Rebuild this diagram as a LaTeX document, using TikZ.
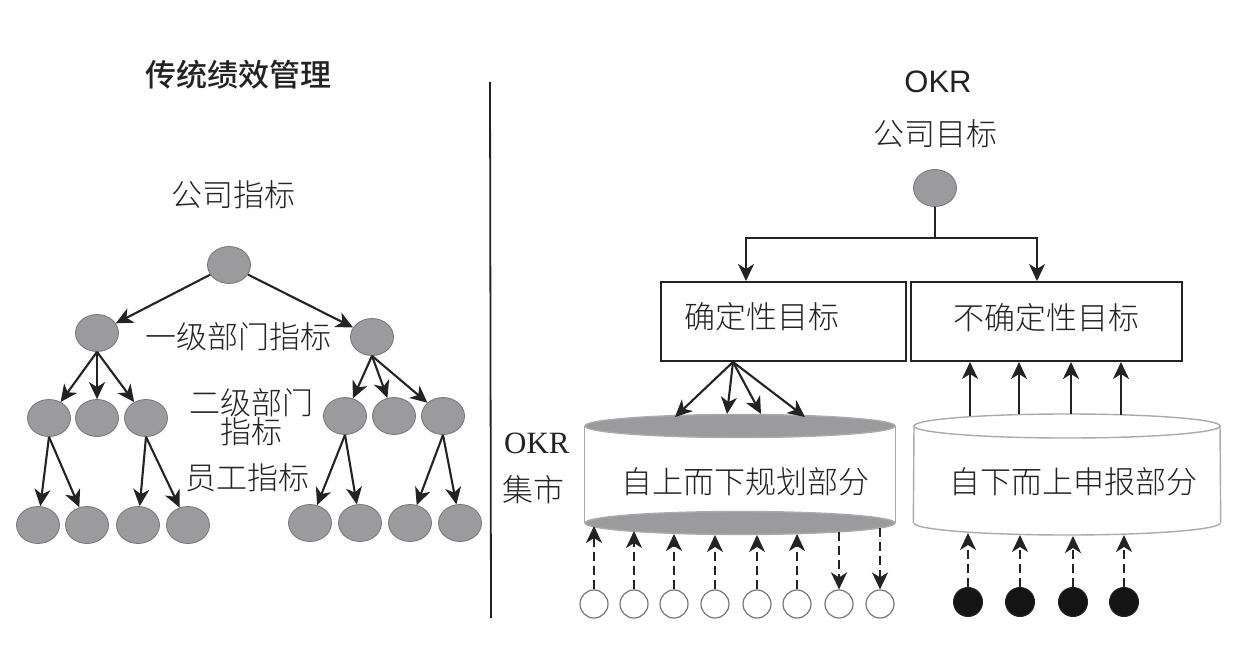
\documentclass[tikz,border=0pt]{standalone}
\usepackage{fontspec}
\setmainfont{Liberation Serif}
\newfontfamily\cjk{Noto Sans CJK SC}[UprightFont={* Light}, BoldFont={* Medium}]
\newfontfamily\lsans{Liberation Sans}
\usetikzlibrary{shapes.geometric,arrows.meta}
\definecolor{ngray}{RGB}{155,155,157}
\definecolor{nedge}{RGB}{118,118,118}
\definecolor{ink}{RGB}{35,35,35}
\definecolor{lgray}{RGB}{170,170,170}
\tikzset{
  gnode/.style={ellipse, fill=ngray, draw=nedge, line width=0.8pt, minimum width=43pt, minimum height=37pt, inner sep=0pt},
  wnode/.style={circle, draw=nedge, fill=white, line width=1.2pt, minimum size=28pt, inner sep=0pt},
  bnode/.style={circle, draw=ink, fill=black!92, line width=1pt, minimum size=29pt, inner sep=0pt},
  arr/.style={draw=ink, line width=2.1pt, -{Stealth[length=17pt,width=16pt,inset=5pt]}},
  darr/.style={arr, dash pattern=on 9pt off 5pt},
  lbl/.style={text=ink, font=\cjk\fontsize{31}{33}\selectfont, inner sep=0pt},
  boxn/.style={draw=ink, line width=1.9pt, inner sep=0pt, fill=white},
  cyltop/.style={ellipse, inner sep=0pt, line width=1.4pt}
}
\begin{document}
\begin{tikzpicture}[x=1pt,y=-1pt]
\useasboundingbox[fill=white] (0,0) rectangle (1252,652);

% ---------- left: traditional ----------
\node[lbl, font=\cjk\bfseries\fontsize{31}{33}\selectfont] (title1) at (238,75) {传统绩效管理};
\node[lbl] (gs) at (233,195) {公司指标};
\node[lbl] (lv1) at (238,337) {一级部门指标};
\node[lbl, align=center, font=\cjk\fontsize{31}{29}\selectfont] (lv2) at (251,417) {二级部门\\指标};
\node[lbl] (lv3) at (247,478) {员工指标};

\node[gnode] (t) at (229,265) {};
\node[gnode] (a) at (97,333) {};
\node[gnode] (b) at (372,337) {};
\node[gnode] (a1) at (49,418) {};
\node[gnode] (a2) at (97,418) {};
\node[gnode] (a3) at (146,418) {};
\node[gnode] (b1) at (345,416) {};
\node[gnode] (b2) at (394,416) {};
\node[gnode] (b3) at (443,416) {};
\node[gnode] (l1) at (38,525) {};
\node[gnode] (l2) at (87,525) {};
\node[gnode] (l3) at (138,525) {};
\node[gnode] (l4) at (188,525) {};
\node[gnode] (r1) at (310,523) {};
\node[gnode] (r2) at (360,523) {};
\node[gnode] (r3) at (410,523) {};
\node[gnode] (r4) at (460,523) {};

\draw[arr] (t) -- (a);
\draw[arr] (t) -- (b);
\foreach \c in {a1,a2,a3} \draw[arr] (a.south) -- (\c);
\foreach \c in {b1,b2,b3} \draw[arr] (b.south) -- (\c);
\draw[arr] (a1.south) -- (l1);
\draw[arr] (a1.south) -- (l2);
\draw[arr] (a3.south) -- (l3);
\draw[arr] (a3.south) -- (l4);
\draw[arr] (b1.south) -- (r1);
\draw[arr] (b1.south) -- (r2);
\draw[arr] (b3.south) -- (r3);
\draw[arr] (b3.south) -- (r4);

% divider
\draw[draw=ink, line width=1.8pt] (490,82) -- (491,618);

% ---------- right: OKR ----------
\node[text=ink, font=\lsans\fontsize{31}{33}\selectfont, inner sep=0pt] (okr) at (938,82) {OKR};
\node[lbl] (gm) at (935,134) {公司目标};
\node[gnode] (ot) at (935,188) {};
\coordinate (j) at (935,238);
\coordinate (jL) at (746,281);
\coordinate (jR) at (1037,281);
\draw[draw=ink, line width=1.9pt] (ot.south) -- (j);
\draw[arr] (j) -| (jL);
\draw[arr] (j) -| (jR);

\node[boxn, minimum width=245pt, minimum height=79pt] (bx1) at (783.5,321.5) {};
\node[lbl] (bx1t) at (762,317) {确定性目标};
\node[boxn, minimum width=271pt, minimum height=79pt] (bx2) at (1046.5,321.5) {};
\node[lbl] (bx2t) at (1046,318) {不确定性目标};

% cylinder 1 (top-down)
\node[cyltop, minimum width=310pt, minimum height=23pt] (c1t) at (740,426) {};
\node[cyltop, minimum width=310pt, minimum height=23pt] (c1b) at (740,523) {};
\fill[white] (c1t.west) rectangle (c1b.east);
\draw[lgray, line width=1.4pt] (c1t.west) -- (c1b.west);
\draw[lgray, line width=1.4pt] (c1t.east) -- (c1b.east);
\node[cyltop, minimum width=310pt, minimum height=23pt, fill=ngray, draw=lgray] at (c1t) {};
\node[cyltop, minimum width=310pt, minimum height=23pt, fill=ngray, draw=lgray] at (c1b) {};
\node[lbl] (c1txt) at (745,482) {自上而下规划部分};

% cylinder 2 (bottom-up)
\node[cyltop, minimum width=306pt, minimum height=24pt, draw=lgray, fill=white] (c2b) at (1067,523) {};
\fill[white] (c2b.west) rectangle (1220,426);
\draw[lgray, line width=1.4pt] (c2b.west) -- (914,426);
\draw[lgray, line width=1.4pt] (c2b.east) -- (1220,426);
\node[cyltop, minimum width=306pt, minimum height=24pt, draw=lgray, fill=white] (c2t) at (1067,426) {};
\node[lbl] (c2txt) at (1073,482) {自下而上申报部分};

% OKR market label
\node[text=ink, font=\fontsize{31}{33}\selectfont, inner sep=0pt, anchor=west] (mk1) at (504,443) {OKR};
\node[lbl, anchor=west] (mk2) at (502,490) {集市};

% arrows box1 -> cylinder 1
\coordinate (s1) at (733,362);
\coordinate (d1) at (675,417);
\coordinate (d2) at (727,414);
\coordinate (d3) at (761,414);
\coordinate (d4) at (805,417);
\foreach \d in {d1,d2,d3,d4} \draw[arr] (s1) -- (\d);

% arrows cylinder 2 -> box2
\foreach \x/\y [count=\i] in {970/416,1019/414,1071/414,1121/415} {
  \coordinate (u\i) at (\x,\y);
  \coordinate (v\i) at (\x,362);
  \draw[arr] (u\i) -- (v\i);
}

% bottom white circles
\foreach \x/\ty [count=\i] in {594/526,634/531,674/534,715/535,757/535,797/534,839/532,880/528} {
  \node[wnode] (o\i) at (\x,604) {};
  \coordinate (e\i) at (\x,\ty);
}
\foreach \i in {1,...,6} \draw[darr] (o\i.north) -- (e\i);
\draw[darr] (e7) -- (o7.north);
\draw[darr] (e8) -- (o8.north);

% bottom black circles
\foreach \x/\ty [count=\i] in {968/533,1020/535,1073/536,1124/535} {
  \node[bnode] (k\i) at (\x,602) {};
  \coordinate (f\i) at (\x,\ty);
  \draw[darr] (k\i.north) -- (f\i);
}
\end{tikzpicture}
\end{document}
